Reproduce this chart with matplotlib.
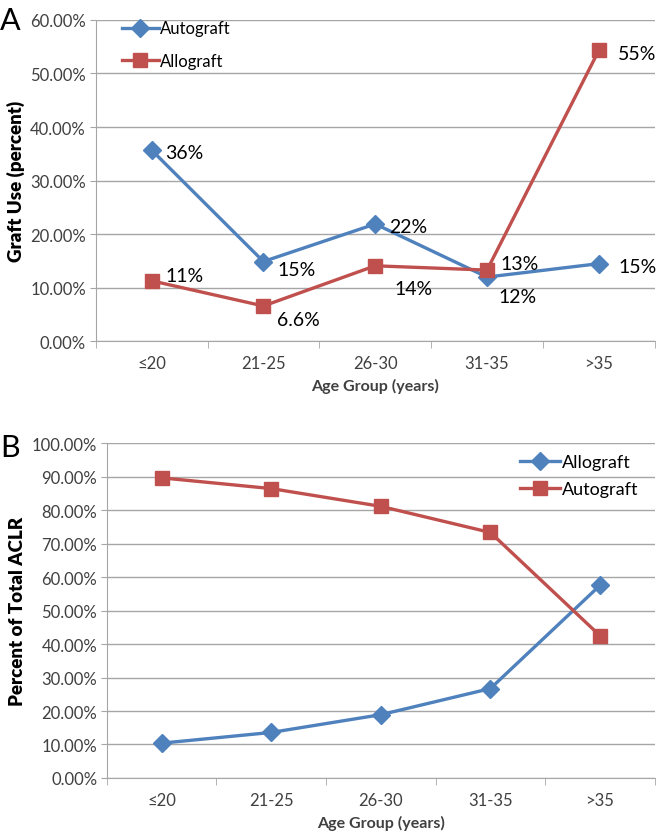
import matplotlib.pyplot as plt
import numpy as np
from matplotlib.ticker import FuncFormatter

plt.rcParams['font.family'] = ['Lato', 'DejaVu Sans']

age_groups = ['≤20', '21-25', '26-30', '31-35', '>35']

# panel A: graft use by age group (percent)
a_autograft = [35.7, 14.9, 21.9, 12.0, 14.5]
a_allograft = [11.3, 6.6, 14.1, 13.3, 54.3]
a_auto_labels = ['36%', '15%', '22%', '12%', '15%']
a_allo_labels = ['11%', '6.6%', '14%', '13%', '55%']

# panel B: share of total ACLR (percent)
b_allograft = [10.4, 13.6, 18.9, 26.7, 57.5]
b_autograft = [89.6, 86.4, 81.1, 73.3, 42.5]

blue = '#4F81BD'
red = '#C0504D'
grid_c = '#A6A6A6'
txt_c = '#404040'

fig = plt.figure(figsize=(6.6, 8.37), dpi=100)
axA = fig.add_axes([0.145, 0.591, 0.847, 0.384])
axB = fig.add_axes([0.162, 0.0693, 0.830, 0.4002])

pct = FuncFormatter(lambda v, p: '%.2f%%' % v)


def style(ax, ymax, step, ylabel):
    x = np.arange(len(age_groups))
    ax.set_xlim(-0.5, len(age_groups) - 0.5)
    ax.set_ylim(0, ymax)
    ax.set_yticks(np.arange(0, ymax + 0.1, step))
    ax.yaxis.set_major_formatter(pct)
    ax.set_xticks(x)
    ax.set_xticklabels(age_groups)
    ax.set_xticks(np.arange(-0.5, len(age_groups)), minor=True)
    ax.tick_params(axis='x', which='major', length=0, pad=10, labelsize=12, labelcolor=txt_c)
    ax.tick_params(axis='x', which='minor', length=5, color=grid_c, direction='out')
    ax.tick_params(axis='y', length=4, color=grid_c, labelsize=12, labelcolor=txt_c, pad=3)
    ax.grid(axis='y', color=grid_c, lw=1)
    ax.set_axisbelow(True)
    for s in ['top', 'right']:
        ax.spines[s].set_visible(False)
    ax.spines['left'].set_color(grid_c)
    ax.spines['bottom'].set_color(grid_c)
    ax.set_xlabel('Age Group (years)', fontsize=11.5, fontweight='bold', color=txt_c, labelpad=5)
    ax.set_ylabel(ylabel, fontsize=13.5, fontweight='heavy', color='black', labelpad=4)


x = np.arange(len(age_groups))

# Panel A
axA.plot(x, a_autograft, color=blue, lw=2.4, marker='D', ms=9, label='Autograft', zorder=3)
axA.plot(x, a_allograft, color=red, lw=2.4, marker='s', ms=10, label='Allograft', zorder=3)
style(axA, 60, 10, 'Graft Use (percent)')
auto_off = [(10, -2), (10, -6), (10, -2), (8, -14), (14, -2)]
allo_off = [(10, 4), (10, -10), (14, -16), (10, 5), (14, -2)]
for i in range(len(age_groups)):
    axA.annotate(a_auto_labels[i], (x[i], a_autograft[i]), xytext=auto_off[i],
                 textcoords='offset points', fontsize=14, color='black', va='center')
    axA.annotate(a_allo_labels[i], (x[i], a_allograft[i]), xytext=allo_off[i],
                 textcoords='offset points', fontsize=14, color='black', va='center')
axA.legend(loc='upper left', bbox_to_anchor=(0.02, 1.045), frameon=False, fontsize=12,
           handlelength=2.2, labelspacing=1.0, handletextpad=0.1)
fig.text(0.0, 0.975, 'A', fontsize=22, va='center', ha='left')

# Panel B
axB.plot(x, b_allograft, color=blue, lw=2.4, marker='D', ms=9, label='Allograft', zorder=3)
axB.plot(x, b_autograft, color=red, lw=2.4, marker='s', ms=10, label='Autograft', zorder=3)
style(axB, 100, 10, 'Percent of Total ACLR')
axB.legend(loc='upper right', bbox_to_anchor=(1.0, 1.015), frameon=False, fontsize=13,
           handlelength=2.2, labelspacing=0.6, handletextpad=0.1)
fig.text(0.0, 0.465, 'B', fontsize=22, va='center', ha='left')

fig.savefig('out.png', dpi=100)
